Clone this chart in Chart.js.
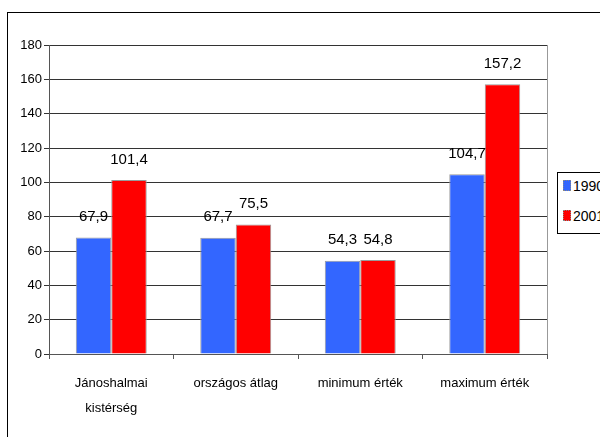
<!DOCTYPE html>
<html>
<head>
<meta charset="utf-8">
<script src="https://cdn.jsdelivr.net/npm/chart.js@4/dist/chart.umd.min.js"></script>
<style>
  html, body { margin: 0; padding: 0; background: #fff; overflow: hidden; }
  #wrap { position: relative; width: 600px; height: 437px; }
  #frame { position: absolute; left: 7px; top: 12px; width: 700px; height: 500px;
           border-left: 1px solid #000; border-top: 1px solid #000; }
  #chartBox { position: absolute; left: 0; top: 0; width: 600px; height: 437px; }
  #legend { position: absolute; left: 557px; top: 172px; width: 80px; height: 60px;
            border: 1px solid #000; background: #fff;
            font-family: "Liberation Sans", Arial, sans-serif; font-size: 14px; }
  #legend div { position: absolute; left: 5px; height: 18px; line-height: 18px; white-space: nowrap; }
  #legend span { display: inline-block; width: 6px; height: 9px; border: 1px dotted #888;
                 margin-right: 2px; vertical-align: 0px; }
</style>
</head>
<body>
<div id="wrap">
  <div id="frame"></div>
  <div id="chartBox"><canvas id="myChart"></canvas></div>
  <div id="legend"></div>
</div>
<script>
var categories = [["Jánoshalmai", "kistérség"], "országos átlag", "minimum érték", "maximum érték"];
var seriesNames = ["1990", "2001"];
var values1990 = [67.9, 67.7, 54.3, 104.7];
var values2001 = [101.4, 75.5, 54.8, 157.2];
var barColors = ["#3366FF", "#FF0000"];

var fontName = "'Liberation Sans', Arial, sans-serif";

var valueLabels = {
  id: "valueLabels",
  afterDatasetsDraw: function (chart) {
    var ctx = chart.ctx;
    ctx.save();
    ctx.font = "15px " + fontName;
    ctx.fillStyle = "#000";
    ctx.textAlign = "center";
    ctx.textBaseline = "bottom";
    chart.data.datasets.forEach(function (ds, i) {
      chart.getDatasetMeta(i).data.forEach(function (bar, j) {
        ctx.fillText(String(ds.data[j]).replace(".", ","), bar.x, bar.y - 13);
      });
    });
    ctx.restore();
  }
};

var plotBorder = {
  id: "plotBorder",
  beforeDatasetsDraw: function (chart) {
    var a = chart.chartArea, ctx = chart.ctx;
    ctx.save();
    ctx.strokeStyle = "#999";
    ctx.lineWidth = 1;
    ctx.beginPath();
    ctx.moveTo(Math.round(a.right) + 0.5, a.top);
    ctx.lineTo(Math.round(a.right) + 0.5, a.bottom);
    ctx.stroke();
    ctx.restore();
  }
};

new Chart("myChart", {
  type: "bar",
  data: {
    labels: categories,
    datasets: [
      { label: seriesNames[0], data: values1990, backgroundColor: barColors[0],
        borderColor: "#9a9a9a", borderWidth: 1 },
      { label: seriesNames[1], data: values2001, backgroundColor: barColors[1],
        borderColor: "#9a9a9a", borderWidth: 1 }
    ]
  },
  options: {
    responsive: true,
    maintainAspectRatio: false,
    animation: false,
    layout: { padding: { left: 0, top: 45, right: 53, bottom: 0 } },
    plugins: { legend: { display: false }, tooltip: { enabled: false } },
    datasets: { bar: { categoryPercentage: 0.57, barPercentage: 1 } },
    scales: {
      x: {
        afterFit: function (s) { s.height = 83; },
        grid: { display: true, drawOnChartArea: false, tickLength: 5, color: "#555" },
        border: { color: "#555" },
        ticks: { padding: 12, color: "#000", maxRotation: 0,
                 font: { family: fontName, size: 13, lineHeight: 1.9 } }
      },
      y: {
        min: 0, max: 180,
        afterFit: function (s) { s.width = 49; },
        grid: { color: "#333", tickLength: 5 },
        border: { color: "#555" },
        ticks: { stepSize: 20, padding: 2, color: "#000",
                 font: { family: fontName, size: 13 } }
      }
    }
  },
  plugins: [valueLabels, plotBorder]
});

var legend = document.getElementById("legend");
seriesNames.forEach(function (name, i) {
  var row = document.createElement("div");
  row.style.top = (i === 0 ? 4 : 34) + "px";
  row.innerHTML = '<span style="background:' + barColors[i] + '"></span>' + name;
  legend.appendChild(row);
});
</script>
</body>
</html>
